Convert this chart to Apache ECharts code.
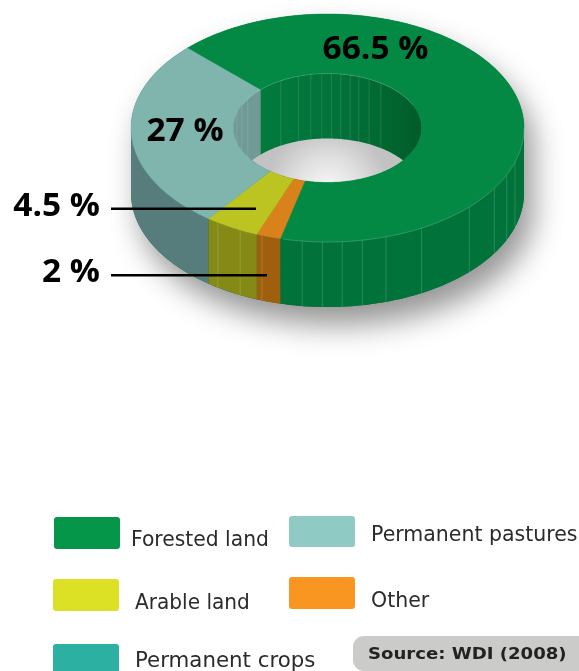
<!DOCTYPE html>
<html>
<head>
<meta charset="utf-8">
<style>
  html, body { margin: 0; padding: 0; background: #fff; }
  #chart { width: 579px; height: 671px; }
</style>
<script src="https://cdn.jsdelivr.net/npm/echarts@6/dist/echarts.min.js"></script>
</head>
<body>
<div id="chart"></div>
<script>
// Land use shares, listed clockwise from the forest / pasture boundary.
const categories = ['Forested land', 'Other', 'Arable land', 'Permanent pastures'];
const shares = [66.5, 2, 4.5, 27];
const topColors = ['#038944', '#d9821b', '#bcc422', '#80b5ae'];
const sideColors = ['#01733a', '#a05f0d', '#858a16', '#567c7b'];
const wallColors = ['#01733a', '#a05f0d', '#858a16', '#6f9a96'];

// Legend entries, in reading order.
const legendLabels = ['Forested land', 'Permanent pastures', 'Arable land', 'Other', 'Permanent crops'];
const legendColors = ['#06964a', '#8fcbc4', '#dce126', '#f99621', '#2cb0a2'];
const sourceText = 'Source: WDI (2008)';

// Facet seams on the extruded walls, in degrees clockwise from the top of the ring.
const outerSeams = [107.4, 114.2, 121.9, 133.8, 151.4, 162.7, 169.8, 175.7, 181.5, 187.4, 199.5, 206.4, 213.9];
const innerSeams = [-74.4, -65.5, -57.8, -29.7, -18, -10.2, -3.5, 2.4, 8.1, 13.9, 19.4, 26.2, 34.5];

// Projected ring geometry.
const ring = { cx: 327.5, cy: 128, rx: 196.5, ry: 114, innerRx: 94.2, innerRy: 54.5, depth: 65 };
const startAngle = 314.5;

let running = startAngle;
const slices = shares.map(function (share) {
  const from = running;
  running += share * 3.6;
  return [from, running];
});

function outerPoint(deg, drop) {
  const t = deg * Math.PI / 180;
  return [ring.cx + ring.rx * Math.sin(t), ring.cy - ring.ry * Math.cos(t) + (drop || 0)];
}
function innerPoint(deg) {
  const t = deg * Math.PI / 180;
  return [ring.cx + ring.innerRx * Math.sin(t), ring.cy - ring.innerRy * Math.cos(t)];
}
function sweep(from, to, fn) {
  const pts = [];
  const n = Math.max(2, Math.ceil(Math.abs(to - from)));
  for (let i = 0; i <= n; i++) pts.push(fn(from + (to - from) * i / n));
  return pts;
}
// Part of [from, to] that falls in the window [lo, hi], trying whole turns.
function overlap(from, to, lo, hi) {
  for (const k of [-360, 0, 360]) {
    const a = Math.max(from, lo + k), b = Math.min(to, hi + k);
    if (b > a) return [a, b];
  }
  return null;
}
// Lower end of the inner wall at an angle: it disappears behind the near rim of the hole.
function wallFoot(deg) {
  const p = innerPoint(deg);
  return [p[0], Math.min(p[1] + ring.depth, ring.cy + ring.innerRy * Math.abs(Math.cos(deg * Math.PI / 180)))];
}

const sliceRows = slices.map(function (s, i) { return { value: [s[0], s[1], i] }; });

function customSeries(name, z, data, renderItem) {
  return { type: 'custom', name: name, coordinateSystem: 'none', z: z, silent: true, animation: false, data: data, renderItem: renderItem };
}

function renderBody() {
  const pts = sweep(270, 450, function (d) { return outerPoint(d); })
    .concat(sweep(90, 270, function (d) { return outerPoint(d, ring.depth); }));
  return { type: 'polygon', shape: { points: pts }, style: {
    fill: '#01733a', shadowBlur: 30, shadowOffsetX: 9, shadowOffsetY: 18, shadowColor: 'rgba(0,0,0,0.42)'
  } };
}

function renderHole() {
  return { type: 'polygon', shape: { points: sweep(0, 360, innerPoint) }, style: {
    fill: { type: 'radial', x: ring.cx, y: 190, r: 62, global: true,
      colorStops: [{ offset: 0, color: '#f8f8f8' }, { offset: 0.45, color: '#e4e4e4' }, { offset: 1, color: '#c2c2c2' }] }
  } };
}

function renderSide(params, api) {
  const i = api.value(2);
  const span = overlap(api.value(0), api.value(1), 90, 270);
  if (!span) return null;
  const pts = sweep(span[0], span[1], function (d) { return outerPoint(d); })
    .concat(sweep(span[1], span[0], function (d) { return outerPoint(d, ring.depth); }));
  return { type: 'polygon', shape: { points: pts }, style: { fill: sideColors[i] } };
}

function renderWall(params, api) {
  const i = api.value(2);
  const span = overlap(api.value(0), api.value(1), 270, 450);
  if (!span) return null;
  const pts = sweep(span[0], span[1], innerPoint).concat(sweep(span[1], span[0], wallFoot));
  const fill = i === 0
    ? { type: 'linear', x: 260, y: 0, x2: 421, y2: 0, global: true,
        colorStops: [{ offset: 0, color: '#027b3d' }, { offset: 0.5, color: '#02713a' }, { offset: 0.72, color: '#016a33' }, { offset: 1, color: '#015c2a' }] }
    : wallColors[i];
  return { type: 'polygon', shape: { points: pts }, style: { fill: fill } };
}

function renderTop(params, api) {
  const i = api.value(2);
  const a = api.value(0), b = api.value(1);
  const pts = sweep(a, b, function (d) { return outerPoint(d); }).concat(sweep(b, a, innerPoint));
  return { type: 'polygon', shape: { points: pts }, style: { fill: topColors[i], stroke: topColors[i], lineWidth: 0.4 } };
}

function renderOuterSeam(params, api) {
  const p = outerPoint(api.value(0));
  return { type: 'line', shape: { x1: p[0], y1: p[1], x2: p[0], y2: p[1] + ring.depth },
    style: { stroke: 'rgba(255,255,255,0.16)', lineWidth: 1 } };
}

function renderInnerSeam(params, api) {
  const p = innerPoint(api.value(0));
  const f = wallFoot(api.value(0));
  return { type: 'line', shape: { x1: p[0], y1: p[1], x2: f[0], y2: f[1] },
    style: { stroke: 'rgba(255,255,255,0.12)', lineWidth: 1 } };
}

// Pale rim where the walls meet the top face.
function renderRim() {
  return { type: 'group', children: [
    { type: 'polyline', shape: { points: sweep(90, 193, function (d) { return outerPoint(d); }) },
      style: { fill: null, stroke: 'rgba(255,255,255,0.18)', lineWidth: 1 } },
    { type: 'polyline', shape: { points: sweep(295, 425, innerPoint) },
      style: { fill: null, stroke: 'rgba(255,255,255,0.18)', lineWidth: 1 } }
  ] };
}

const valueFont = 'bold 32.5px "Open Sans", sans-serif';
function percentLabel(share, x, y, align) {
  return { type: 'text', z: 100, x: x, y: y, scaleX: 1.03, style: {
    text: share + ' %', font: valueFont, fill: '#000', align: align, verticalAlign: 'middle'
  } };
}
function leader(x1, x2, y) {
  return { type: 'line', z: 99, shape: { x1: x1, y1: y, x2: x2, y2: y }, style: { stroke: '#000', lineWidth: 2.6 } };
}
function swatch(i, x, y, h, r) {
  return { type: 'rect', z: 100, shape: { x: x, y: y, width: 66, height: h, r: r || 3 }, style: { fill: legendColors[i] } };
}
function legendText(i, x, y, stretch) {
  return { type: 'text', z: 100, x: x, y: y, scaleX: stretch || 1, style: {
    text: legendLabels[i], font: '20.5px "DejaVu Sans", sans-serif', fill: '#2b2b2b', verticalAlign: 'middle'
  } };
}

const chart = echarts.init(document.getElementById('chart'), null, { renderer: 'canvas' });
chart.setOption({
  animation: false,
  backgroundColor: '#fff',
  series: [
    customSeries('body', 1, [[0]], renderBody),
    customSeries('hole', 2, [[0]], renderHole),
    customSeries('outer wall', 3, sliceRows, renderSide),
    customSeries('outer seams', 4, outerSeams.map(function (d) { return [d]; }), renderOuterSeam),
    customSeries('inner wall', 5, sliceRows, renderWall),
    customSeries('inner seams', 6, innerSeams.map(function (d) { return [d]; }), renderInnerSeam),
    customSeries('top', 7, sliceRows, renderTop),
    customSeries('rim', 8, [[0]], renderRim)
  ],
  graphic: { elements: [
    percentLabel(shares[0], 375.5, 50, 'center'),
    percentLabel(shares[3], 185, 132, 'center'),
    percentLabel(shares[2], 100, 207, 'right'),
    percentLabel(shares[1], 100, 273, 'right'),
    leader(111, 256, 208.7),
    leader(111, 267, 275.3),
    swatch(0, 54, 517, 32),
    swatch(1, 289, 516, 31),
    swatch(2, 53, 579, 32),
    swatch(3, 289, 577, 32),
    swatch(4, 53, 644, 27, [3, 3, 0, 0]),
    legendText(0, 131, 540.5, 0.99),
    legendText(1, 371, 536),
    legendText(2, 135, 603.5, 0.98),
    legendText(3, 371, 601.5),
    legendText(4, 135, 661.5, 1.04),
    { type: 'rect', z: 100, shape: { x: 353, y: 636, width: 226, height: 35, r: [11, 0, 0, 11] }, style: { fill: '#cbcbca' } },
    { type: 'text', z: 101, x: 368, y: 655, scaleX: 1.13, style: {
      text: sourceText, font: 'bold 16px "DejaVu Sans", sans-serif', fill: '#222', verticalAlign: 'middle'
    } }
  ] }
});
</script>
</body>
</html>
